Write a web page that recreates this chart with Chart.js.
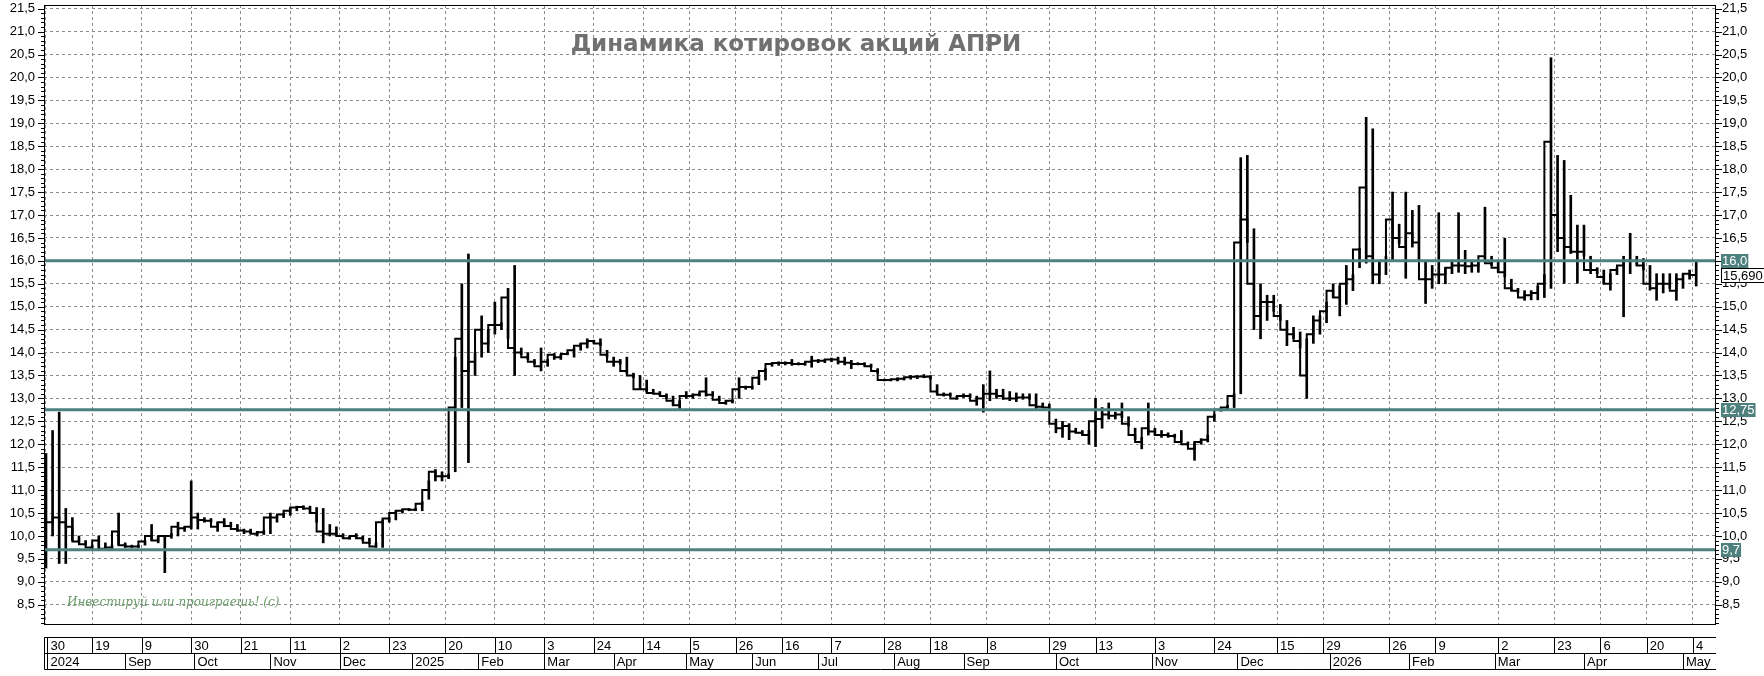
<!DOCTYPE html>
<html>
<head>
<meta charset="utf-8">
<title>Динамика котировок акций АПРИ</title>
<script src="https://cdn.jsdelivr.net/npm/chart.js@4.4.1/dist/chart.umd.min.js"></script>
<style>
  html, body { margin: 0; padding: 0; background: #fff; }
  #wrap { width: 1764px; height: 676px; }
</style>
</head>
<body>
<div id="wrap"><canvas id="priceChart" width="1764" height="676"></canvas></div>
<script>
// one bar = 2 trading sessions, x axis is counted in sessions
const STEP = 2;

const highs = [
  11.8, 12.3, 12.7, 10.6, 10.4, 10.0, 9.9, 9.8, 10.0, 9.85,
  9.8, 10.5, 9.85, 9.8, 9.8, 9.9, 10.25, 10.0, 10.0, 10.05,
  10.3, 10.2, 11.2, 10.5, 10.4, 10.38, 10.3, 10.38, 10.3, 10.25,
  10.15, 10.15, 10.1, 10.12, 10.5, 10.45, 10.5, 10.6, 10.65, 10.66,
  10.65, 10.62, 10.6, 10.25, 10.2, 10.05, 10.0, 10.05, 10.0, 9.95,
  9.85, 10.35, 10.4, 10.55, 10.58, 10.6, 10.6, 10.75, 11.2, 11.45,
  11.4, 11.35, 13.9, 15.5, 16.15, 14.0, 14.8, 14.5, 15.1, 14.65,
  15.4, 15.9, 14.1, 14.0, 13.85, 14.1, 13.85, 13.98, 13.95, 14.0,
  14.1, 14.2, 14.3, 14.27, 14.3, 14.05, 13.9, 13.85, 13.9, 13.55,
  13.5, 13.4, 13.2, 13.15, 13.1, 13.05, 12.95, 13.15, 13.1, 13.12,
  13.45, 13.15, 13.05, 12.95, 12.97, 13.45, 13.27, 13.27, 13.5, 13.65,
  13.78, 13.8, 13.8, 13.85, 13.78, 13.78, 13.92, 13.85, 13.85, 13.88,
  13.9, 13.9, 13.83, 13.78, 13.78, 13.75, 13.65, 13.42, 13.42, 13.45,
  13.45, 13.5, 13.5, 13.52, 13.5, 13.3, 13.12, 13.12, 13.05, 13.1,
  13.1, 13.05, 13.3, 13.6, 13.2, 13.2, 13.15, 13.12, 13.1, 13.1,
  13.1, 12.9, 12.88, 12.55, 12.5, 12.45, 12.35, 12.3, 12.3, 13.0,
  12.8, 12.9, 12.7, 12.9, 12.6, 12.35, 12.15, 12.9, 12.35, 12.3,
  12.25, 12.22, 12.3, 12.05, 12.05, 12.12, 12.2, 12.65, 12.8, 12.85,
  13.1, 18.25, 18.3, 16.7, 15.5, 15.25, 15.25, 15.05, 14.7, 14.55,
  14.45, 14.3, 14.8, 14.8, 15.1, 15.5, 15.45, 15.9, 15.7, 16.27,
  19.13, 18.88, 16.0, 16.1, 17.5, 16.8, 17.5, 17.1, 17.21, 16.0,
  15.9, 17.05, 15.85, 16.01, 17.05, 16.23, 16.0, 16.0, 17.17, 16.1,
  16.0, 16.49, 15.6, 15.4, 15.35, 15.35, 15.45, 15.7, 20.43, 18.3,
  18.19, 17.43, 16.78, 16.78, 16.1, 15.85, 15.8, 15.72, 15.85, 16.1,
  16.6, 16.1, 16.05, 15.9, 15.72, 15.72, 15.72, 15.72, 15.72, 15.8,
  15.98
];

const lows = [
  9.3, 10.0, 9.4, 9.4, 9.9, 9.85, 9.8, 9.7, 9.7, 9.7,
  9.7, 9.8, 9.75, 9.75, 9.75, 9.8, 9.9, 9.85, 9.2, 9.95,
  10.0, 10.1, 10.15, 10.15, 10.3, 10.3, 10.1, 10.2, 10.2, 10.1,
  10.05, 10.05, 10.0, 10.03, 10.05, 10.3, 10.4, 10.45, 10.55, 10.58,
  10.5, 10.3, 9.85, 10.0, 10.0, 9.95, 9.93, 9.95, 9.9, 9.83,
  9.75, 9.75, 10.3, 10.35, 10.5, 10.55, 10.55, 10.55, 10.8, 11.2,
  11.2, 11.25, 11.4, 12.8, 11.6, 13.5, 13.9, 14.0, 14.4, 14.5,
  14.3, 13.5, 13.95, 13.85, 13.75, 13.6, 13.7, 13.85, 13.85, 13.95,
  13.9, 14.05, 14.1, 14.2, 14.15, 13.9, 13.7, 13.75, 13.55, 13.45,
  13.2, 13.15, 13.1, 13.07, 13.0, 12.85, 12.78, 13.0, 13.0, 13.05,
  13.05, 13.05, 12.95, 12.87, 12.9, 13.0, 13.2, 13.2, 13.3, 13.4,
  13.7, 13.72, 13.73, 13.72, 13.73, 13.72, 13.68, 13.78, 13.78, 13.8,
  13.75, 13.73, 13.65, 13.73, 13.72, 13.68, 13.55, 13.38, 13.38, 13.38,
  13.4, 13.42, 13.43, 13.45, 13.42, 13.1, 13.05, 13.05, 12.98, 13.02,
  13.02, 12.85, 12.7, 12.95, 13.0, 12.98, 12.95, 12.93, 12.98, 12.98,
  12.78, 12.8, 12.75, 12.25, 12.15, 12.1, 12.25, 12.2, 12.0, 11.95,
  12.35, 12.55, 12.55, 12.58, 12.4, 12.1, 11.9, 12.2, 12.2, 12.15,
  12.15, 12.15, 12.05, 11.98, 11.65, 12.0, 12.05, 12.5, 12.72, 12.75,
  12.8, 13.1, 16.4, 14.5, 14.3, 14.7, 14.9, 14.7, 14.15, 14.3,
  14.1, 13.0, 14.2, 14.4, 14.65, 15.2, 14.8, 15.05, 15.35, 15.85,
  15.95, 15.5, 15.5, 15.7, 16.0, 16.38, 15.62, 16.3, 16.0, 15.07,
  15.4, 15.5, 15.5, 15.72, 15.75, 15.72, 15.75, 15.75, 16.0, 15.9,
  15.75, 15.65, 15.35, 15.3, 15.14, 15.15, 15.15, 15.2, 15.4, 16.2,
  15.51, 16.16, 15.51, 16.1, 15.72, 15.72, 15.5, 15.36, 15.7, 14.78,
  15.72, 15.9, 15.8, 15.36, 15.14, 15.3, 15.4, 15.14, 15.4, 15.6,
  15.45
];

const closes = [
  10.1, 10.3, 10.4, 10.3, 10.2, 9.88, 9.82, 9.75, 9.9, 9.72,
  9.75, 10.1, 9.8, 9.77, 9.77, 9.88, 10.0, 9.9, 10.0, 10.0,
  10.2, 10.17, 10.2, 10.4, 10.35, 10.33, 10.2, 10.3, 10.22, 10.15,
  10.12, 10.1, 10.05, 10.08, 10.4, 10.4, 10.47, 10.55, 10.62, 10.63,
  10.6, 10.5, 10.1, 10.05, 10.05, 10.0, 9.95, 10.0, 9.95, 9.85,
  9.77, 10.3, 10.38, 10.5, 10.55, 10.58, 10.57, 10.7, 11.0, 11.4,
  11.3, 11.3, 12.8, 14.3, 13.6, 13.8, 14.5, 14.2, 14.6, 14.6,
  15.2, 14.1, 14.0, 13.9, 13.8, 13.7, 13.8, 13.95, 13.9, 13.97,
  14.05, 14.15, 14.2, 14.25, 14.2, 13.95, 13.8, 13.8, 13.6, 13.5,
  13.2, 13.2, 13.12, 13.1, 13.05, 12.95, 12.85, 13.05, 13.05, 13.08,
  13.15, 13.08, 12.97, 12.9, 12.95, 13.2, 13.25, 13.25, 13.45, 13.6,
  13.75, 13.77, 13.77, 13.77, 13.75, 13.75, 13.8, 13.82, 13.82, 13.85,
  13.85, 13.8, 13.78, 13.75, 13.75, 13.7, 13.6, 13.4, 13.4, 13.42,
  13.43, 13.46, 13.47, 13.48, 13.47, 13.15, 13.08, 13.08, 13.0, 13.05,
  13.05, 12.95, 13.0, 13.1, 13.1, 13.05, 13.0, 13.0, 13.02, 13.02,
  12.85, 12.82, 12.8, 12.45, 12.35, 12.4, 12.28, 12.25, 12.2, 12.5,
  12.55, 12.65, 12.62, 12.65, 12.45, 12.2, 12.05, 12.35, 12.28, 12.2,
  12.2, 12.18, 12.05, 12.0, 11.9, 12.05, 12.1, 12.6, 12.75, 12.8,
  13.05, 16.4, 16.9, 15.5, 14.8, 15.1, 15.1, 14.8, 14.5, 14.4,
  14.25, 13.5, 14.4, 14.7, 14.9, 15.35, 15.2, 15.5, 15.6, 16.25,
  17.6, 16.1, 15.7, 16.0, 16.9, 16.5, 16.3, 16.6, 16.4, 15.6,
  15.6, 15.7, 15.7, 15.85, 15.9, 15.9, 15.88, 15.9, 16.1, 15.95,
  15.85, 15.75, 15.4, 15.35, 15.2, 15.25, 15.3, 15.5, 18.6, 17.0,
  16.5, 16.3, 16.2, 16.2, 15.8, 15.8, 15.65, 15.5, 15.8, 15.9,
  16.0, 16.0, 15.9, 15.5, 15.4, 15.5, 15.5, 15.35, 15.6, 15.72,
  15.69
];

// date strip: day grid ticks and month starts, in sessions
const dayTickPos = [0, 14, 29, 44, 59, 74, 89, 104, 121, 136, 151, 166, 181, 195, 209, 223, 238,
  254, 268, 285, 304, 318, 336, 354, 373, 387, 407, 421, 440, 457, 471, 485, 499];
const dayLabels = ['30', '19', '9', '30', '21', '11', '2', '23', '20', '10', '3', '24', '14', '5', '26', '16', '7',
  '28', '18', '8', '29', '13', '3', '24', '15', '29', '26', '9', '2', '23', '6', '20', '4'];
const monthPos = [0, 24, 45, 68, 89, 111, 131, 151, 172, 194, 214, 234, 257, 278, 306, 335, 361, 389, 413, 439, 466, 496];
const monthLabels = ['2024', 'Sep', 'Oct', 'Nov', 'Dec', '2025', 'Feb', 'Mar', 'Apr', 'May', 'Jun', 'Jul',
  'Aug', 'Sep', 'Oct', 'Nov', 'Dec', '2026', 'Feb', 'Mar', 'Apr', 'May'];

const yTickValues = [8.5, 9.0, 9.5, 10.0, 10.5, 11.0, 11.5, 12.0, 12.5, 13.0, 13.5, 14.0, 14.5, 15.0,
  15.5, 16.0, 16.5, 17.0, 17.5, 18.0, 18.5, 19.0, 19.5, 20.0, 20.5, 21.0, 21.5];

const levels = [16.0, 12.75, 9.7];
const levelLabels = ['16,0', '12,75', '9,7'];
const lastPrice = 15.69;
const lastPriceLabel = '15,690';

const X_MIN = -0.6, X_MAX = 506;
const Y_MIN = 8.08, Y_MAX = 21.58;
const TEAL = '#4e807d';
const GRID = '#8c8c8c';
const AXIS_FONT = '"Liberation Sans Narrow", "Liberation Sans", Arial, sans-serif';

const fmt = v => v.toFixed(1).replace('.', ',');

const chartDecor = {
  id: 'chartDecor',
  afterDraw(chart) {
    const { ctx, chartArea: a, scales } = chart;
    const xs = scales.x, ys = scales.y;
    ctx.save();

    // frame
    ctx.strokeStyle = '#000';
    ctx.lineWidth = 1;
    ctx.strokeRect(Math.round(a.left) + 0.5, Math.round(a.top) + 0.5,
      Math.round(a.right - a.left) - 1, Math.round(a.bottom - a.top));

    // tick marks on both price axes (every 0,1; longer every 0,5)
    ctx.beginPath();
    for (let k = 81; k <= 215; k++) {
      const py = Math.round(ys.getPixelForValue(k / 10)) + 0.5;
      const len = k % 5 === 0 ? 6 : 3;
      ctx.moveTo(a.left - len, py); ctx.lineTo(a.left, py);
      ctx.moveTo(a.right, py); ctx.lineTo(a.right + len, py);
    }
    ctx.stroke();

    // date strip
    const top = Math.round(a.bottom) + 13.5, mid = top + 16, bot = mid + 16;
    const l = Math.round(a.left) + 0.5, r = Math.round(a.right);
    ctx.beginPath();
    [top, mid, bot].forEach(yy => { ctx.moveTo(l, yy); ctx.lineTo(r, yy); });
    ctx.moveTo(l, top); ctx.lineTo(l, bot);
    ctx.moveTo(l + 3, top); ctx.lineTo(l + 3, bot);
    dayTickPos.forEach((s, i) => {
      if (i === 0) return;
      const px = Math.round(xs.getPixelForValue(s)) + 0.5;
      ctx.moveTo(px, top); ctx.lineTo(px, mid);
    });
    monthPos.forEach((s, i) => {
      if (i === 0) return;
      const px = Math.round(xs.getPixelForValue(s)) + 0.5;
      ctx.moveTo(px, mid); ctx.lineTo(px, bot);
    });
    ctx.stroke();

    ctx.fillStyle = '#000';
    ctx.font = '13px ' + AXIS_FONT;
    ctx.textAlign = 'left';
    ctx.textBaseline = 'middle';
    dayTickPos.forEach((s, i) => {
      const px = Math.max(xs.getPixelForValue(s), l + 3);
      ctx.fillText(dayLabels[i], px + 3, (top + mid) / 2 + 1);
    });
    monthPos.forEach((s, i) => {
      const px = Math.max(xs.getPixelForValue(s), l + 3);
      ctx.fillText(monthLabels[i], px + 3, (mid + bot) / 2 + 1);
    });

    // level tags on the right
    levels.forEach((v, i) => {
      const py = ys.getPixelForValue(v);
      const w = ctx.measureText(levelLabels[i]).width + 2;
      ctx.fillStyle = TEAL;
      ctx.fillRect(a.right + 5, Math.round(py) - 7, w, 14);
      ctx.fillStyle = '#fff';
      ctx.fillText(levelLabels[i], a.right + 6, py + 1);
    });

    // last price tag
    const lp = ys.getPixelForValue(lastPrice);
    const lw = ctx.measureText(lastPriceLabel).width + 4;
    ctx.fillStyle = '#fff';
    ctx.fillRect(a.right + 5, Math.round(lp) - 7, lw, 15);
    ctx.strokeStyle = '#000';
    ctx.strokeRect(a.right + 5.5, Math.round(lp) - 6.5, lw, 14);
    ctx.fillStyle = '#000';
    ctx.fillText(lastPriceLabel, a.right + 7, lp + 1);

    // title
    ctx.fillStyle = '#707070';
    ctx.font = 'bold 23px "DejaVu Sans", sans-serif';
    ctx.textAlign = 'center';
    ctx.fillText('Динамика котировок акций АПРИ', 796, 45);

    // watermark
    ctx.fillStyle = '#6a9a6a';
    ctx.font = 'italic 12px "DejaVu Serif", serif';
    ctx.textAlign = 'left';
    ctx.fillText('Инвестируй или проиграешь! (с)', 67, 603);

    ctx.restore();
  }
};

const ctx = document.getElementById('priceChart').getContext('2d');

const levelSets = levels.map(v => ({
  type: 'line',
  data: [{ x: X_MIN, y: v }, { x: X_MAX, y: v }],
  borderColor: TEAL,
  borderWidth: 3,
  pointRadius: 0,
  order: 0
}));

const priceChart = new Chart(ctx, {
  type: 'bar',
  data: {
    datasets: [
      ...levelSets,
      {
        type: 'line',
        data: closes.map((c, i) => ({ x: i * STEP, y: c })),
        stepped: 'after',
        borderColor: '#000',
        borderWidth: 2,
        pointRadius: 0,
        order: 1
      },
      {
        type: 'bar',
        data: highs.map((h, i) => ({ x: i * STEP, y: [lows[i], h] })),
        backgroundColor: '#000',
        barThickness: 2,
        order: 2
      }
    ]
  },
  options: {
    responsive: false,
    animation: false,
    events: [],
    layout: { padding: { top: 5, left: 0, right: 0, bottom: 0 } },
    plugins: {
      legend: { display: false },
      tooltip: { enabled: false }
    },
    scales: {
      x: {
        type: 'linear',
        min: X_MIN,
        max: X_MAX,
        offset: false,
        afterBuildTicks: s => { s.ticks = dayTickPos.map(v => ({ value: v })); },
        afterFit: s => { s.height = 52; s.paddingLeft = 0; s.paddingRight = 0; },
        ticks: { display: false },
        grid: { color: GRID, drawTicks: false, offset: false },
        border: { display: false, dash: [3, 3] }
      },
      y: {
        position: 'left',
        min: Y_MIN,
        max: Y_MAX,
        afterBuildTicks: s => { s.ticks = yTickValues.map(v => ({ value: v })); },
        afterFit: s => { s.width = 44; s.paddingTop = 0; s.paddingBottom = 0; },
        ticks: {
          padding: 9,
          color: '#000',
          font: { family: AXIS_FONT, size: 13 },
          callback: v => fmt(v)
        },
        grid: { color: GRID, drawTicks: false },
        border: { display: false, dash: [3, 3] }
      },
      y2: {
        position: 'right',
        min: Y_MIN,
        max: Y_MAX,
        afterBuildTicks: s => { s.ticks = yTickValues.map(v => ({ value: v })); },
        afterFit: s => { s.width = 48; s.paddingTop = 0; s.paddingBottom = 0; },
        ticks: {
          padding: 6,
          color: '#000',
          font: { family: AXIS_FONT, size: 13 },
          callback: v => fmt(v)
        },
        grid: { display: false, drawTicks: false },
        border: { display: false }
      }
    }
  },
  plugins: [chartDecor]
});
</script>
</body>
</html>
